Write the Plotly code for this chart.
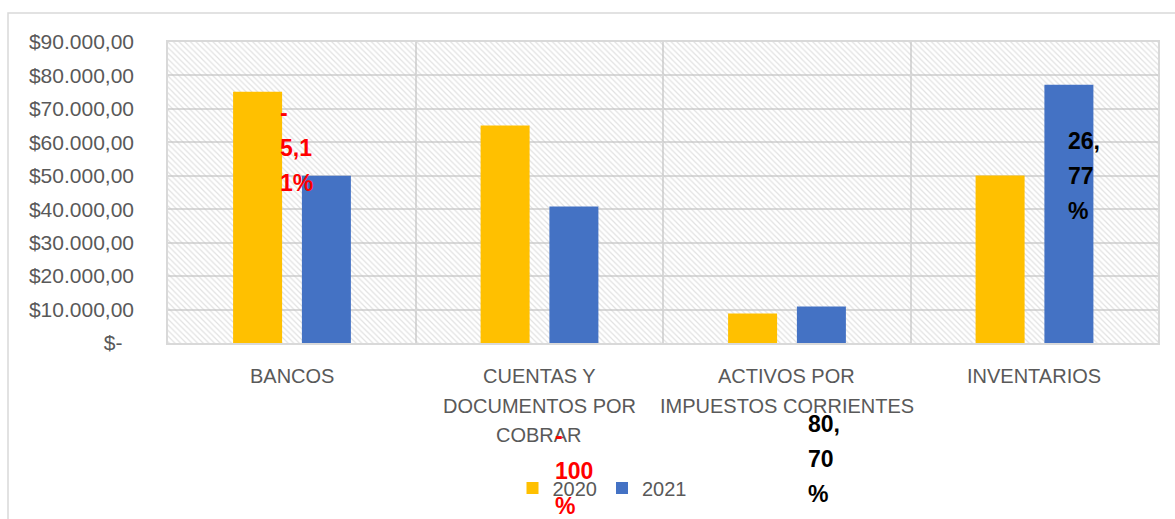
import plotly.graph_objects as go

# ---------------- data ----------------
categories = ["BANCOS", "CUENTAS Y DOCUMENTOS POR COBRAR",
              "ACTIVOS POR IMPUESTOS CORRIENTES", "INVENTARIOS"]
category_lines = [["BANCOS"], ["CUENTAS Y", "DOCUMENTOS POR", "COBRAR"],
                  ["ACTIVOS POR", "IMPUESTOS CORRIENTES"], ["INVENTARIOS"]]
series_names = ["2020", "2021"]
values_2020 = [75100, 65000, 8800, 50100]
values_2021 = [50000, 40800, 10900, 77200]
y_tickvals = [0, 10000, 20000, 30000, 40000, 50000, 60000, 70000, 80000, 90000]
y_ticktext = ["$-\u00a0\u00a0", "$10.000,00", "$20.000,00", "$30.000,00", "$40.000,00",
              "$50.000,00", "$60.000,00", "$70.000,00", "$80.000,00", "$90.000,00"]
pct_labels = [["-", "5,1", "1%"], ["-", "100", "%"], ["80,", "70", "%"], ["26,", "77", "%"]]
pct_colors = ["#FF0000", "#FF0000", "#000000", "#000000"]

# ---------------- layout geometry (pixels) ----------------
W, H = 1175, 519
L, R, T, B = 168, 1158, 42, 343
FONT = "Liberation Sans, Arial, sans-serif"
GREY = "#595959"
GRID = "#d9d9d9"


def px_x(px):
    return (px - L) / (R - L)


def px_y(py):
    return (B - py) / (B - T)


fig = go.Figure()

# hatched plot-area background
fig.add_trace(go.Bar(
    x=[categories[0]], y=[y_tickvals[-1]], base=0, width=[len(categories)], offset=-0.5,
    marker=dict(color="rgba(0,0,0,0)", line=dict(width=0),
                pattern=dict(shape="\\", fgcolor="#c4c4c4", size=4, solidity=0.3,
                             fillmode="overlay")),
    showlegend=False, hoverinfo="skip"))

fig.add_trace(go.Bar(name=series_names[0], x=categories, y=values_2020,
                     width=0.198, offset=-0.237,
                     marker=dict(color="#FFC000", line=dict(width=0))))
fig.add_trace(go.Bar(name=series_names[1], x=categories, y=values_2021,
                     width=0.198, offset=0.041,
                     marker=dict(color="#4472C4", line=dict(width=0))))

annotations = []
# category labels (multi-line)
for cat, lines in zip(categories, category_lines):
    for j, line in enumerate(lines):
        annotations.append(dict(
            x=cat, xref="x", y=px_y(376 + 29.5 * j), yref="paper",
            text=line, showarrow=False, xanchor="center", yanchor="middle",
            font=dict(family=FONT, size=20, color=GREY)))

# percentage labels
pct_pos = [(278, 113), (553, 436), (806, 424), (1066, 141)]
for lines, color, (lx, ty) in zip(pct_labels, pct_colors, pct_pos):
    for j, line in enumerate(lines):
        annotations.append(dict(
            x=px_x(lx), xref="paper", y=px_y(ty + 35 * j), yref="paper",
            text=line, showarrow=False, xanchor="left", yanchor="middle",
            font=dict(family=FONT, size=23, color=color, weight="bold")))

fig.update_layout(
    width=W, height=H,
    margin=dict(l=L, r=W - R, t=T, b=H - B, pad=0),
    paper_bgcolor="white", plot_bgcolor="white",
    barmode="overlay",
    font=dict(family=FONT, size=20, color=GREY),
    showlegend=True,
    legend=dict(orientation="h", x=px_x(602), y=px_y(488), xanchor="center",
                yanchor="middle", font=dict(family=FONT, size=20, color=GREY),
                bgcolor="rgba(0,0,0,0)"),
    annotations=annotations,
    shapes=[dict(type="rect", xref="paper", yref="paper",
                 x0=px_x(8), x1=px_x(1190), y0=px_y(540), y1=px_y(13),
                 line=dict(color=GRID, width=1.5), fillcolor="rgba(0,0,0,0)",
                 layer="below")],
)

fig.update_xaxes(type="category", categoryorder="array", categoryarray=categories,
                 range=[-0.5, 3.5], showticklabels=False, ticks="",
                 tickson="boundaries", showgrid=True, gridcolor=GRID, gridwidth=1.5,
                 showline=True, linecolor=GRID, linewidth=1.5, mirror=True,
                 zeroline=False)
fig.update_yaxes(range=[0, 90000], tickvals=y_tickvals, ticktext=y_ticktext,
                 tickfont=dict(family=FONT, size=21, color=GREY),
                 ticks="", ticklabelstandoff=28,
                 showgrid=True, gridcolor=GRID, gridwidth=1.5,
                 showline=True, linecolor=GRID, linewidth=1.5, mirror=True,
                 zeroline=False)

fig.write_html("out.html", config={"displayModeBar": False},
               post_script="document.body.style.margin='0';document.body.style.overflow='hidden';")
